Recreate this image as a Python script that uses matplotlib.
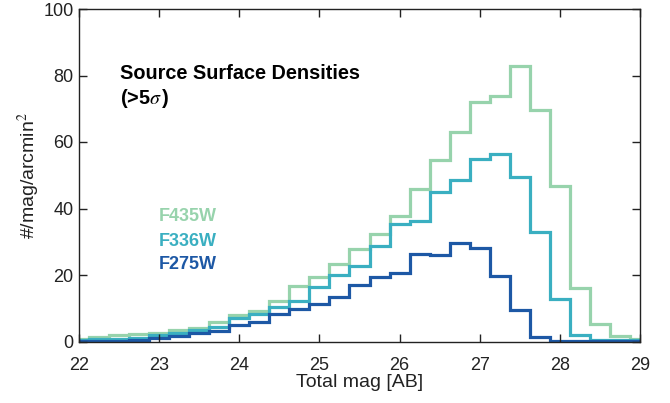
import numpy as np
import matplotlib
matplotlib.use("Agg")
import matplotlib.pyplot as plt

plt.rcParams['font.family'] = ['Liberation Sans', 'DejaVu Sans']
plt.rcParams['mathtext.fontset'] = 'stix'

mag_centers = [22.0, 22.25, 22.5, 22.75, 23.0, 23.25, 23.5, 23.75, 24.0, 24.25,
               24.5, 24.75, 25.0, 25.25, 25.5, 25.75, 26.0, 26.25, 26.5, 26.75,
               27.0, 27.25, 27.5, 27.75, 28.0, 28.25, 28.5, 28.75, 29.0]

f435w = [0.9, 1.4, 1.9, 2.3, 2.7, 3.6, 4.1, 5.9, 8.1, 9.3,
         12.3, 16.7, 19.3, 23.2, 27.7, 32.3, 37.6, 45.8, 54.7, 63.0,
         72.1, 73.8, 83.0, 69.5, 46.8, 16.0, 5.4, 1.6, 0.9]
f336w = [0.5, 0.7, 0.9, 1.2, 1.9, 2.7, 3.4, 4.4, 7.0, 8.4,
         10.4, 12.3, 16.5, 20.0, 22.7, 28.7, 35.3, 36.2, 44.9, 48.7,
         54.9, 56.4, 49.5, 32.9, 12.8, 1.9, 0.6, 0.5, 0.4]
f275w = [0.1, 0.2, 0.3, 0.6, 1.2, 1.7, 2.7, 3.3, 4.9, 6.0,
         8.4, 9.9, 11.2, 13.5, 17.0, 19.5, 20.7, 26.3, 26.0, 29.6,
         28.0, 19.7, 9.4, 1.4, 0.2, 0.1, 0.1, 0.1, 0.1]

series = [("F435W", f435w, "#97d3ac"),
          ("F336W", f336w, "#3aafc1"),
          ("F275W", f275w, "#1d58a5")]

xticks = [22, 23, 24, 25, 26, 27, 28, 29]
yticks = [0, 20, 40, 60, 80, 100]

fig = plt.figure(figsize=(6.70, 4.03), dpi=100)
ax = fig.add_axes([79/670, 1 - 341.5/403, (640 - 79)/670, (341.5 - 9)/403])

half = 0.125
edges = np.concatenate([np.array(mag_centers) - half, [mag_centers[-1] + half]])
for name, vals, col in series:
    ax.stairs(vals, edges, baseline=None, color=col, linewidth=2.3)

ax.set_xlim(22, 29)
ax.set_ylim(0, 100)
ax.set_xticks(xticks)
ax.set_yticks(yticks)
ax.tick_params(direction='in', length=6, width=1, top=True, right=True,
               labelsize=13, colors='#222222')
ax.tick_params(axis='x', pad=11)
ax.tick_params(axis='y', pad=4)
for sp in ax.spines.values():
    sp.set_color('#222222')
    sp.set_linewidth(1)

ax.set_xlabel("Total mag [AB]", fontsize=14, color='#222222', labelpad=0)
ax.set_ylabel("#/mag/arcmin$^{2}$", fontsize=14, color='#222222', labelpad=1)

ax.text(0.073, 0.807, "Source Surface Densities", transform=ax.transAxes,
        fontsize=14.3, fontweight='bold', va='center', ha='left')
ax.text(0.073, 0.732, r"(>5$\sigma\,$)", transform=ax.transAxes,
        fontsize=14.3, fontweight='bold', va='center', ha='left')

ypos = [0.376, 0.302, 0.233]
for (name, vals, col), yp in zip(series, ypos):
    ax.text(0.143, yp, name, transform=ax.transAxes, fontsize=13,
            fontweight='bold', color=col, va='center', ha='left')

fig.savefig("out.png", dpi=100)
